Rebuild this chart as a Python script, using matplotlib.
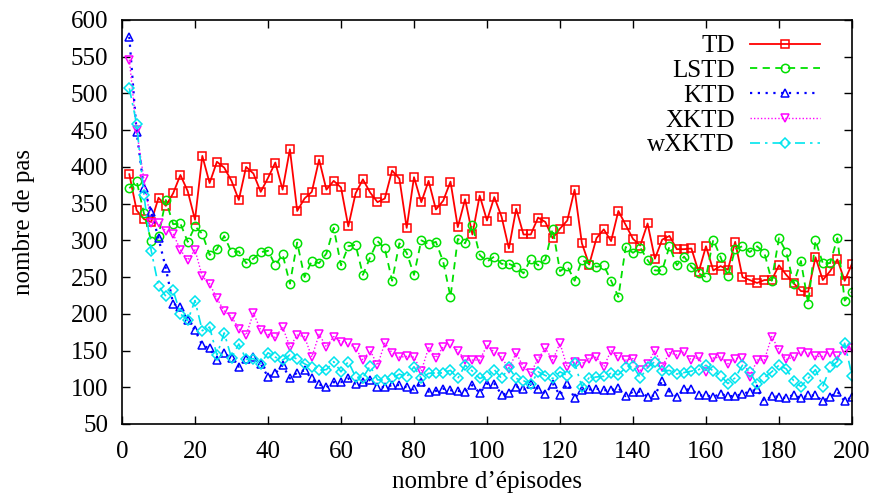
import numpy as np
import matplotlib
matplotlib.use("Agg")
import matplotlib.pyplot as plt

plt.rcParams['font.family'] = ['Liberation Serif', 'DejaVu Serif']

# episodes (every 2 episodes)
episodes = list(range(2, 201, 2))

td = [390, 341, 329, 325, 358, 347, 364, 389, 367, 328,
      415, 378, 407, 399, 381, 355, 400, 391, 366, 385,
      406, 369, 424, 340, 357, 366, 410, 369, 381, 372,
      319, 364, 383, 365, 352, 357, 395, 384, 317, 386,
      352, 381, 342, 354, 380, 318, 356, 308, 361, 327,
      359, 332, 289, 343, 308, 308, 331, 325, 303, 316,
      327, 369, 296, 267, 303, 315, 299, 340, 321, 302,
      293, 323, 275, 301, 306, 288, 288, 289, 257, 292,
      259, 265, 260, 298, 250, 246, 242, 246, 246, 266,
      253, 242, 231, 230, 277, 246, 258, 274, 245, 268]

lstd = [371, 381, 337, 299, 306, 355, 322, 323, 298, 319,
        309, 280, 288, 306, 284, 285, 269, 275, 284, 286,
        266, 281, 241, 297, 250, 272, 269, 282, 317, 266,
        292, 294, 253, 277, 299, 289, 245, 296, 283, 253,
        300, 295, 298, 271, 223, 302, 296, 321, 280, 271,
        278, 268, 268, 264, 255, 275, 266, 274, 316, 258,
        265, 245, 273, 268, 264, 266, 245, 223, 291, 283,
        290, 273, 259, 259, 292, 266, 278, 264, 255, 250,
        301, 277, 251, 288, 292, 284, 292, 283, 245, 303,
        284, 241, 272, 214, 300, 269, 269, 303, 218, 230]

ktd = [577, 448, 371, 339, 303, 262, 214, 209, 191, 178,
       157, 153, 137, 146, 140, 128, 139, 141, 132, 114,
       119, 130, 112, 120, 123, 112, 104, 100, 107, 107,
       112, 105, 107, 110, 101, 100, 103, 103, 100, 97,
       107, 94, 95, 98, 96, 95, 94, 103, 92, 105,
       105, 90, 92, 101, 97, 104, 98, 91, 105, 89,
       105, 85, 96, 97, 98, 96, 96, 99, 88, 94,
       94, 87, 89, 109, 94, 87, 97, 97, 89, 89,
       87, 91, 88, 88, 91, 94, 97, 81, 88, 87,
       85, 90, 85, 89, 89, 81, 87, 94, 81, 87]

xktd = [546, 450, 383, 323, 323, 313, 309, 287, 273, 287,
        251, 241, 221, 204, 196, 180, 171, 201, 178, 172,
        168, 182, 155, 171, 169, 141, 172, 155, 169, 162,
        160, 153, 137, 150, 130, 160, 147, 141, 142, 141,
        122, 154, 140, 155, 159, 150, 137, 137, 137, 157,
        148, 141, 125, 147, 127, 119, 139, 153, 137, 160,
        127, 135, 132, 139, 141, 128, 150, 141, 137, 139,
        123, 132, 150, 128, 147, 144, 148, 137, 141, 121,
        140, 141, 132, 139, 140, 114, 137, 137, 169, 151,
        138, 141, 148, 147, 142, 142, 147, 142, 150, 153]

wxktd = [507, 459, 362, 286, 238, 224, 232, 200, 191, 218,
         177, 182, 144, 174, 140, 159, 138, 139, 132, 147,
         141, 137, 144, 138, 132, 127, 124, 124, 135, 121,
         135, 114, 113, 129, 110, 110, 112, 118, 114, 128,
         112, 119, 119, 120, 123, 112, 130, 122, 112, 115,
         124, 112, 127, 112, 109, 104, 121, 116, 112, 121,
         116, 133, 101, 113, 114, 115, 119, 117, 127, 129,
         113, 127, 135, 122, 123, 118, 120, 122, 124, 130,
         122, 116, 105, 113, 130, 121, 104, 113, 121, 130,
         125, 109, 101, 112, 124, 101, 127, 135, 160, 116]

fig = plt.figure(figsize=(8.74, 5.0), dpi=100)
ax = fig.add_axes([0.1396, 0.152, 0.8352, 0.808])

mk = dict(markersize=6, markerfacecolor='none', markeredgewidth=1.1)
ax.plot(episodes, td, color='#ff0000', linestyle='-', linewidth=1.3,
        marker='s', label='TD', **mk)
ax.plot(episodes, lstd, color='#00e000', linestyle=(0, (4, 3)), linewidth=1.3,
        marker='o', label='LSTD', **mk)
ax.plot(episodes, ktd, color='#0000ff', linestyle=(0, (1, 2.5)), linewidth=1.6,
        marker='^', label='KTD', **mk)
ax.plot(episodes, xktd, color='#ff00ff', linestyle=(0, (1, 1.5)), linewidth=1.0,
        marker='v', label='XKTD', **mk)
ax.plot(episodes, wxktd, color='#00e5ee', linestyle=(0, (6, 3, 1.5, 3)), linewidth=1.2,
        marker='D', label='wXKTD', markersize=5, markerfacecolor='none', markeredgewidth=1.1)

ax.set_xlim(0, 200)
ax.set_ylim(50, 600)
ax.set_xticks(range(0, 201, 20))
ax.set_yticks(range(50, 601, 50))
ax.tick_params(direction='in', length=6, width=1, top=True, right=True,
               labelsize=18)
ax.tick_params(axis='x', pad=12)
ax.tick_params(axis='y', pad=10)
for s in ax.spines.values():
    s.set_linewidth(1.2)

ax.set_xlabel("nombre d\u2019\u00e9pisodes", fontsize=18, labelpad=6)
ax.set_ylabel("nombre de pas", fontsize=18, labelpad=26)

ax.legend(loc='upper right', bbox_to_anchor=(0.9767, 1.0), frameon=False,
          markerfirst=False, numpoints=1, handlelength=2.8, fontsize=18,
          labelspacing=0.09, borderpad=0.3, borderaxespad=0.3, handletextpad=0.6)

fig.savefig('out.png', dpi=100)
